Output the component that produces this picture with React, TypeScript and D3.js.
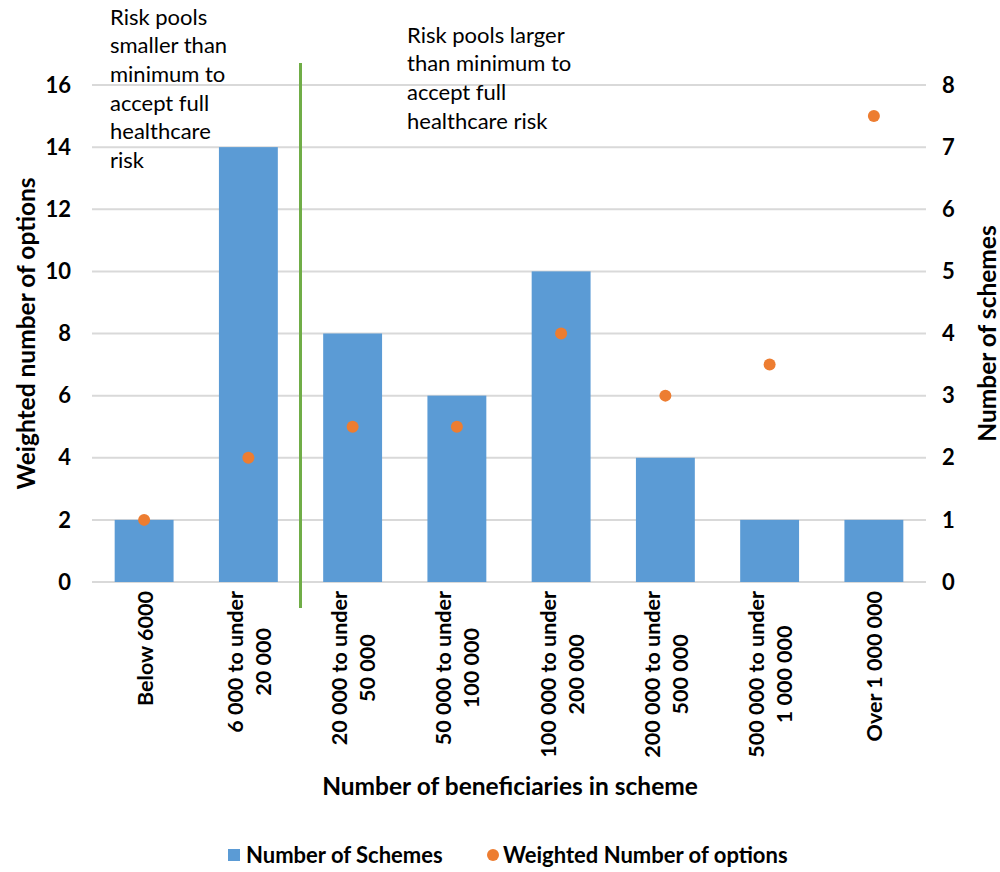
import React, { useEffect, useRef } from "react";
import * as d3 from "d3";

const categories = [
  ["Below 6000"],
  ["6 000 to under", "20 000"],
  ["20 000 to under", "50 000"],
  ["50 000 to under", "100 000"],
  ["100 000 to under", "200 000"],
  ["200 000 to under", "500 000"],
  ["500 000 to under", "1 000 000"],
  ["Over 1 000 000"],
];
const numberOfSchemes = [1, 7, 4, 3, 5, 2, 1, 1];
const weightedOptions = [2, 4, 5, 5, 8, 6, 7, 15];
const leftTicks = [0, 2, 4, 6, 8, 10, 12, 14, 16];
const rightTicks = [0, 1, 2, 3, 4, 5, 6, 7, 8];
const noteLeft = ["Risk pools", "smaller than", "minimum to", "accept full", "healthcare", "risk"];
const noteRight = ["Risk pools larger", "than minimum to", "accept full", "healthcare risk"];

const FONT = "Lato, 'Open Sans', sans-serif";
const BLUE = "#5b9bd5";
const ORANGE = "#ed7d31";
const GREEN = "#70ad47";
const GRID = "#d9d9d9";

export default function App() {
  const ref = useRef<SVGSVGElement>(null);

  useEffect(() => {
    const svg = d3.select(ref.current);
    svg.selectAll("*").remove();
    const left = 92, right = 926, top = 85, bottom = 582;
    const idx = categories.map((_, i) => String(i));
    const x = d3.scaleBand().domain(idx).range([left, right]).paddingInner(0.435).paddingOuter(0.2175);
    const yL = d3.scaleLinear().domain([0, 16]).range([bottom, top]);
    const yR = d3.scaleLinear().domain([0, 8]).range([bottom, top]);
    const g = svg.append("g").attr("font-family", FONT).attr("font-weight", "bold").attr("fill", "#000");

    // gridlines
    g.selectAll("line.grid").data(leftTicks).join("line")
      .attr("x1", left).attr("x2", right)
      .attr("y1", (d) => yL(d)).attr("y2", (d) => yL(d))
      .attr("stroke", GRID).attr("stroke-width", 2);

    // bars
    g.selectAll("rect.bar").data(numberOfSchemes).join("rect")
      .attr("x", (_, i) => x(String(i))!)
      .attr("width", x.bandwidth())
      .attr("y", (d) => yR(d))
      .attr("height", (d) => bottom - yR(d))
      .attr("fill", BLUE);

    // green divider
    const divX = (x("1")! + x.bandwidth() + x("2")!) / 2;
    g.append("line").attr("x1", divX).attr("x2", divX).attr("y1", 63).attr("y2", 608)
      .attr("stroke", GREEN).attr("stroke-width", 3);

    // dots
    g.selectAll("circle.dot").data(weightedOptions).join("circle")
      .attr("cx", (_, i) => x(String(i))! + x.bandwidth() / 2)
      .attr("cy", (d) => yL(d))
      .attr("r", 6).attr("fill", ORANGE);

    // left ticks
    g.selectAll("text.lt").data(leftTicks).join("text")
      .attr("x", 71).attr("y", (d) => yL(d)).attr("dy", "0.35em")
      .attr("text-anchor", "end").attr("font-size", 22).text((d) => d);
    // right ticks
    g.selectAll("text.rt").data(rightTicks).join("text")
      .attr("x", 942).attr("y", (d) => yR(d)).attr("dy", "0.35em")
      .attr("text-anchor", "start").attr("font-size", 22).text((d) => d);

    // category labels
    categories.forEach((lines, i) => {
      const cx = x(String(i))! + x.bandwidth() / 2 + 1;
      const t = g.append("text").attr("font-size", 21.5).attr("text-anchor", "middle");
      lines.forEach((ln) => t.append("tspan").text(ln));
      const spans = t.selectAll("tspan").nodes() as SVGTextContentElement[];
      const maxLen = d3.max(spans, (s) => s.getComputedTextLength()) || 0;
      const cy = 591 + maxLen / 2;
      const lh = 28;
      const n = lines.length;
      t.attr("transform", `translate(${cx},${cy}) rotate(-90)`);
      t.selectAll("tspan").attr("x", 0).attr("y", (_, j) => (j - (n - 1) / 2) * lh).attr("dy", "0.35em");
    });

    // axis titles
    g.append("text").attr("transform", `translate(26,${(top + bottom) / 2}) rotate(-90)`)
      .attr("text-anchor", "middle").attr("dy", "0.35em").attr("font-size", 24.5).text("Weighted number of options");
    g.append("text").attr("transform", `translate(987,${(top + bottom) / 2}) rotate(-90)`)
      .attr("text-anchor", "middle").attr("dy", "0.35em").attr("font-size", 24.5).text("Number of schemes");
    g.append("text").attr("x", 510).attr("y", 786).attr("dy", "0.35em")
      .attr("text-anchor", "middle").attr("font-size", 24.5).text("Number of beneficiaries in scheme");

    // notes
    const nl = g.append("text").attr("font-size", 22).attr("font-weight", "normal");
    noteLeft.forEach((ln, j) => nl.append("tspan").attr("x", 110).attr("y", 17 + j * 28.6).attr("dy", "0.35em").text(ln));
    const nr = g.append("text").attr("font-size", 22).attr("font-weight", "normal");
    noteRight.forEach((ln, j) => nr.append("tspan").attr("x", 407).attr("y", 35 + j * 28.6).attr("dy", "0.35em").text(ln));

    // legend
    g.append("rect").attr("x", 228).attr("y", 849).attr("width", 12).attr("height", 12).attr("fill", BLUE);
    g.append("text").attr("x", 246).attr("y", 855).attr("dy", "0.35em").attr("font-size", 22).text("Number of Schemes");
    g.append("circle").attr("cx", 493).attr("cy", 855).attr("r", 6).attr("fill", ORANGE);
    g.append("text").attr("x", 503).attr("y", 855).attr("dy", "0.35em").attr("font-size", 22).text("Weighted Number of options");
  }, []);

  return (
    <svg ref={ref} width={1000} height={872} style={{ position: "absolute", left: 0, top: 0, background: "#fff" }} />
  );
}
